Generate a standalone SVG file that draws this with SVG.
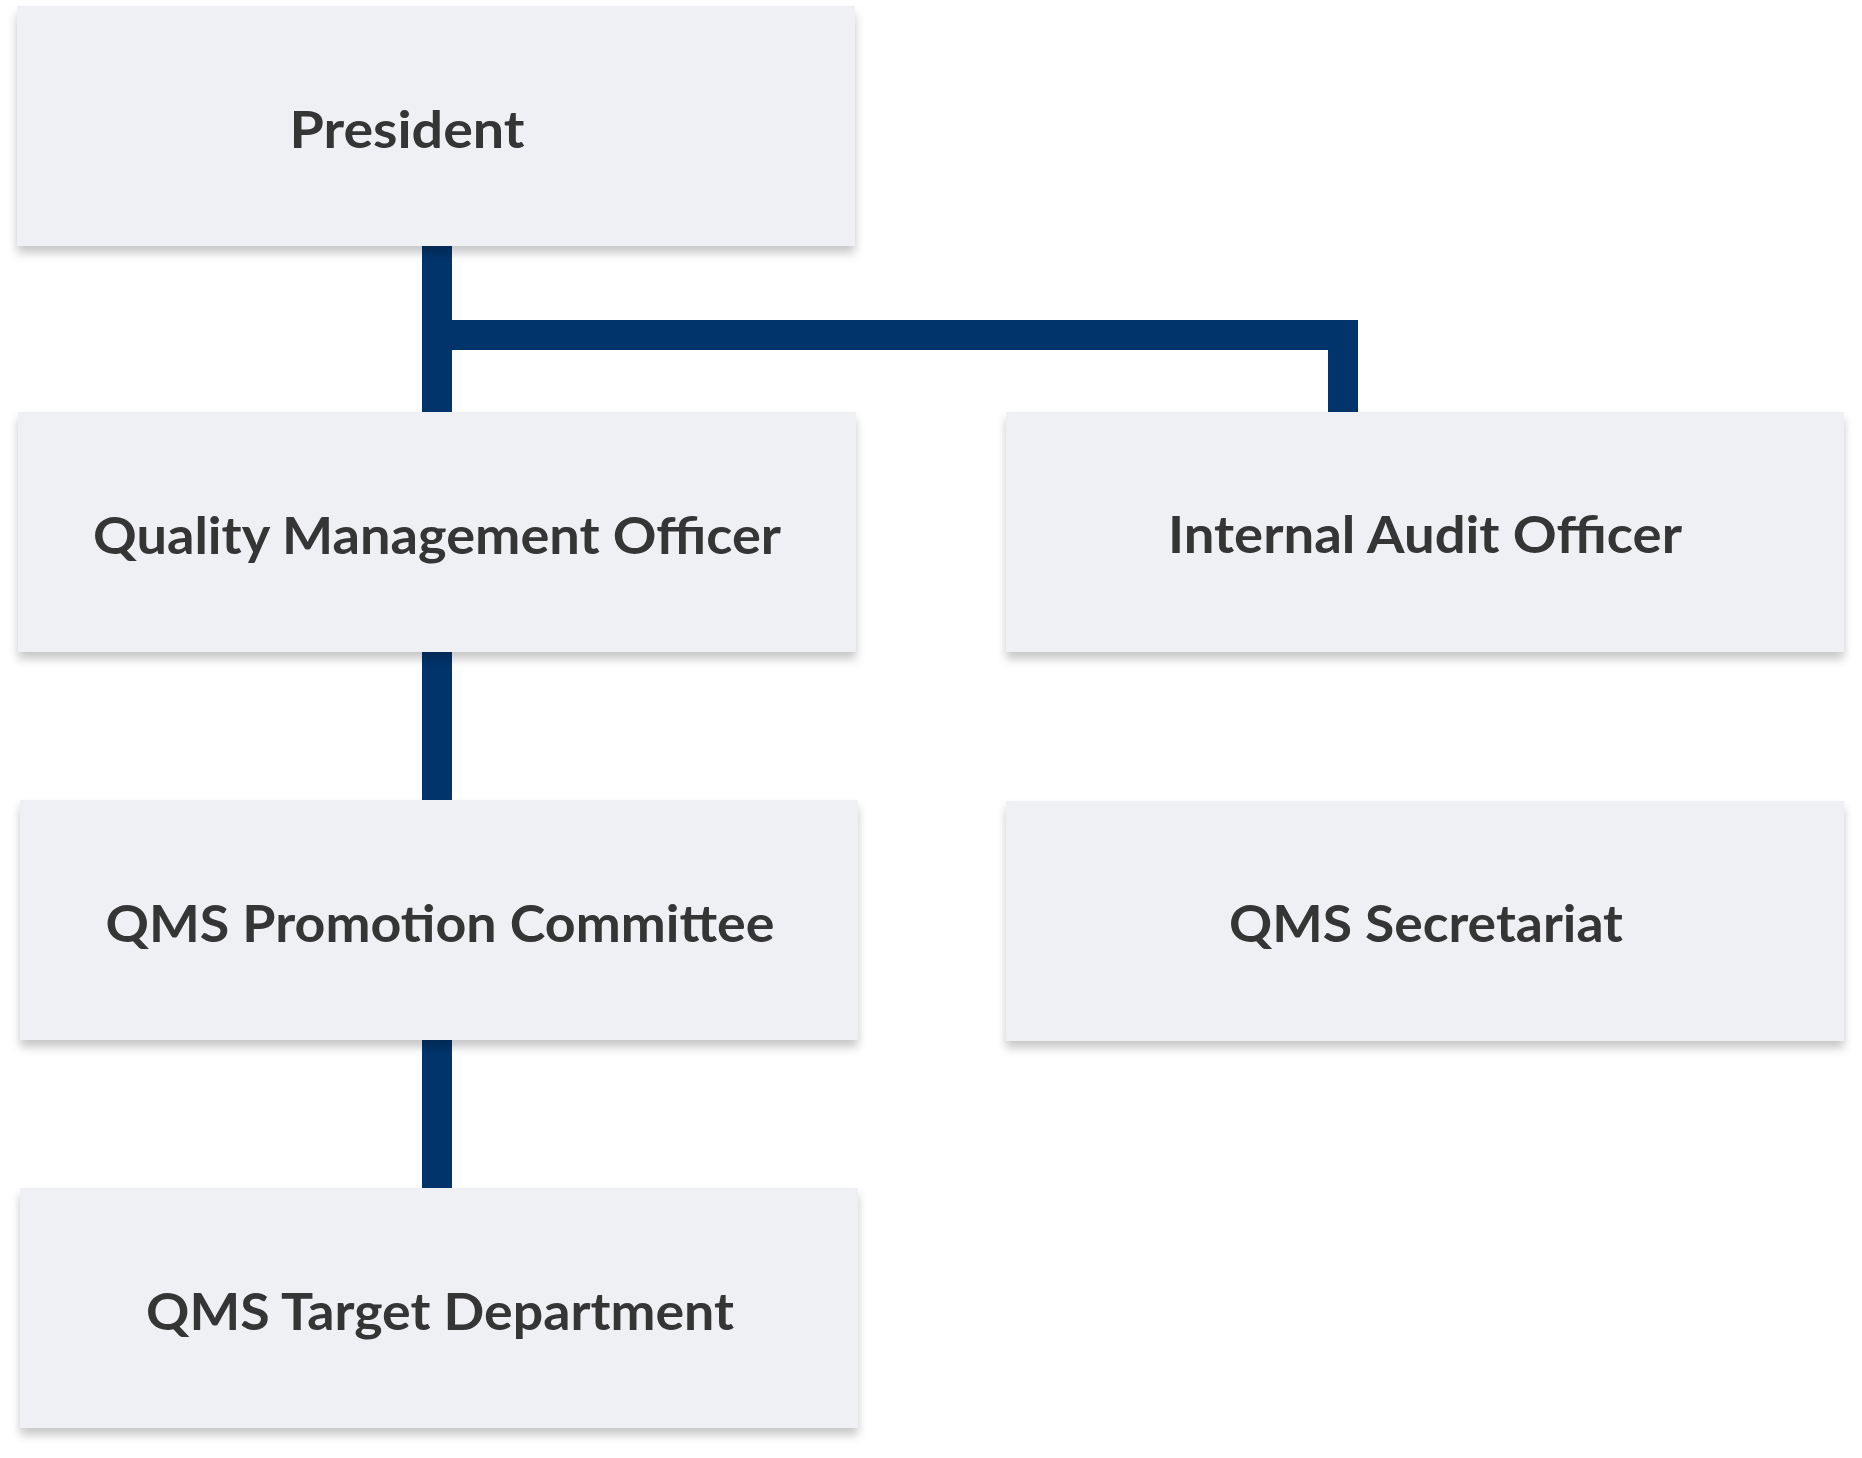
<svg xmlns="http://www.w3.org/2000/svg" width="1862" height="1458" viewBox="0 0 1862 1458">
  <defs>
    <filter id="sh" x="-5%" y="-10%" width="110%" height="130%">
      <feDropShadow dx="0" dy="7" stdDeviation="5" flood-color="#000" flood-opacity="0.22"/>
    </filter>
  </defs>
  <style>
    .box { fill: #eff0f4; filter: url(#sh); }
    .lbl { font-family: Lato, "Open Sans", sans-serif; font-weight: 700; font-size: 52px; fill: #353535; text-anchor: middle; }
    .con { fill: #01346b; }
  </style>
  <rect width="1862" height="1458" fill="#ffffff"/>
  <g id="connectors">
    <rect class="con" x="422" y="240" width="30" height="176"/>
    <rect class="con" x="452" y="320" width="906" height="30"/>
    <rect class="con" x="1328" y="320" width="30" height="96"/>
    <rect class="con" x="422" y="646" width="30" height="158"/>
    <rect class="con" x="422" y="1034" width="30" height="158"/>
  </g>
  <g id="president">
    <rect class="box" x="17" y="6" width="838" height="240"/>
    <text class="lbl" x="407" y="148" textLength="235" lengthAdjust="spacingAndGlyphs">President</text>
  </g>
  <g id="qmo">
    <rect class="box" x="18" y="412" width="838" height="240"/>
    <text class="lbl" x="437" y="554" textLength="688" lengthAdjust="spacingAndGlyphs">Quality Management Officer</text>
  </g>
  <g id="iao">
    <rect class="box" x="1006" y="412" width="838" height="240"/>
    <text class="lbl" x="1425" y="553" textLength="514" lengthAdjust="spacingAndGlyphs">Internal Audit Officer</text>
  </g>
  <g id="qmsp">
    <rect class="box" x="20" y="800" width="838" height="240"/>
    <text class="lbl" x="440" y="942" textLength="669" lengthAdjust="spacingAndGlyphs">QMS Promotion Committee</text>
  </g>
  <g id="qmss">
    <rect class="box" x="1006" y="801" width="838" height="240"/>
    <text class="lbl" x="1426" y="942" textLength="394" lengthAdjust="spacingAndGlyphs">QMS Secretariat</text>
  </g>
  <g id="qmst">
    <rect class="box" x="20" y="1188" width="838" height="240"/>
    <text class="lbl" x="440" y="1330" textLength="588" lengthAdjust="spacingAndGlyphs">QMS Target Department</text>
  </g>
</svg>
